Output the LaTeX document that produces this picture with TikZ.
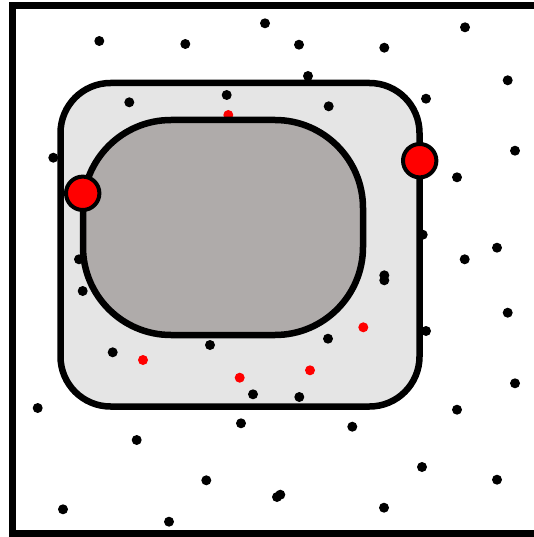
\documentclass[tikz,border=0pt]{standalone}
\begin{document}
\begin{tikzpicture}[x=1pt,y=-1pt,
  framestyle/.style={line width=7pt,draw=black},
  zonestyle/.style={line width=6.5pt,draw=black},
  dotblack/.style={fill=black},
  dotred/.style={fill=red},
  bigred/.style={fill=red,draw=black,line width=4pt}]
\useasboundingbox (0,0) rectangle (534,537);
\clip (0,0) rectangle (534,537);
\fill[white] (0,0) rectangle (534,537);
% fills
\fill[fill={rgb,255:red,229;green,229;blue,229}, rounded corners=50pt] (60.5,83) rectangle (419.5,406.5);
\fill[fill={rgb,255:red,175;green,171;blue,170}, rounded corners=88pt] (83,120) rectangle (363,335);
% black dots
\foreach \px/\py in {99.3/41, 185.3/44, 265/23.3, 129.3/102.3, 226.7/95, 53.3/157.7, 79/259.3,
  299/44.7, 384.3/47.7, 465/27.3, 308/76, 328.7/106.3, 426/98.7, 507.7/80.3, 515/150.7,
  457/177.3, 422.7/234.7, 497/247.7, 464.7/259.3,
  82.7/291, 112.7/352.3, 210/345, 253/394.3, 37.7/408, 136.7/440, 241/423.3, 206.3/480.3,
  63/509.3, 169/521.7,
  384.3/275.3, 384.3/280.3, 328/338.7, 426/331, 299.3/397, 507.7/312.7, 515/383.3,
  457/409.7, 352.3/426.7, 422/467, 497/479.7, 280.3/494.7, 277/497, 384/507.7}
  \fill[dotblack] (\px,\py) circle[radius=5pt];
% red dots
\foreach \px/\py in {228.3/115, 143/360, 239.7/377.7, 363.3/327.3, 310/370.3}
  \fill[dotred] (\px,\py) circle[radius=5pt];
% borders
\draw[zonestyle, rounded corners=50pt] (60.5,83) rectangle (419.5,406.5);
\draw[zonestyle, rounded corners=88pt] (83,120) rectangle (363,335);
\draw[framestyle] (12.5,533.5) -- (12.5,5.5) -- (560,5.5) (9,533.5) -- (560,533.5);
% big red circles
\draw[bigred] (82.7,193.3) circle[radius=16.7pt];
\draw[bigred] (419.7,160.7) circle[radius=16.7pt];
\end{tikzpicture}
\end{document}
